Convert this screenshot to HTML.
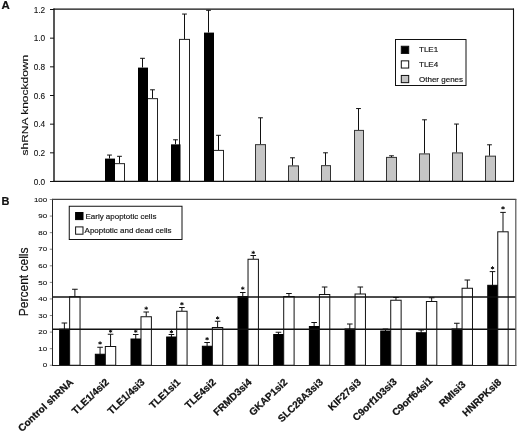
<!DOCTYPE html>
<html><head><meta charset="utf-8"><title>Figure</title>
<style>
html,body{margin:0;padding:0;background:#fff;}
body{width:520px;height:434px;overflow:hidden;font-family:"Liberation Sans", sans-serif;}
svg{display:block;font-family:"Liberation Sans", sans-serif;opacity:0.999;}
</style></head><body>
<svg width="520" height="434" viewBox="0 0 520 434">
<defs><filter id="soft" x="0" y="0" width="100%" height="100%" filterUnits="userSpaceOnUse" color-interpolation-filters="sRGB"><feGaussianBlur stdDeviation="0.38"/></filter></defs>
<rect x="0" y="0" width="520" height="434" fill="#fff"/>
<g filter="url(#soft)">
<rect x="0" y="0" width="520" height="434" fill="#fff"/>
<text transform="translate(1.50,9.00) scale(1.04,1)" font-size="11" text-anchor="start" font-weight="bold" fill="#111" stroke="#111" stroke-width="0.2">A</text>
<text transform="translate(27.50,155.50) scale(0.82,1) rotate(-90)" font-size="12" text-anchor="start" fill="#111" stroke="#111" stroke-width="0.18">shRNA knockdown</text>
<line x1="50.00" y1="181.50" x2="54.00" y2="181.50" stroke="#111" stroke-width="1"/>
<text transform="translate(45.20,184.80) scale(0.9,1)" font-size="9.2" text-anchor="end" fill="#111" stroke="#111" stroke-width="0.1">0.0</text>
<line x1="50.00" y1="152.83" x2="54.00" y2="152.83" stroke="#111" stroke-width="1"/>
<text transform="translate(45.20,156.13) scale(0.9,1)" font-size="9.2" text-anchor="end" fill="#111" stroke="#111" stroke-width="0.1">0.2</text>
<line x1="50.00" y1="124.17" x2="54.00" y2="124.17" stroke="#111" stroke-width="1"/>
<text transform="translate(45.20,127.47) scale(0.9,1)" font-size="9.2" text-anchor="end" fill="#111" stroke="#111" stroke-width="0.1">0.4</text>
<line x1="50.00" y1="95.50" x2="54.00" y2="95.50" stroke="#111" stroke-width="1"/>
<text transform="translate(45.20,98.80) scale(0.9,1)" font-size="9.2" text-anchor="end" fill="#111" stroke="#111" stroke-width="0.1">0.6</text>
<line x1="50.00" y1="66.83" x2="54.00" y2="66.83" stroke="#111" stroke-width="1"/>
<text transform="translate(45.20,70.13) scale(0.9,1)" font-size="9.2" text-anchor="end" fill="#111" stroke="#111" stroke-width="0.1">0.8</text>
<line x1="50.00" y1="38.17" x2="54.00" y2="38.17" stroke="#111" stroke-width="1"/>
<text transform="translate(45.20,41.47) scale(0.9,1)" font-size="9.2" text-anchor="end" fill="#111" stroke="#111" stroke-width="0.1">1.0</text>
<line x1="50.00" y1="9.50" x2="54.00" y2="9.50" stroke="#111" stroke-width="1"/>
<text transform="translate(45.20,12.80) scale(0.9,1)" font-size="9.2" text-anchor="end" fill="#111" stroke="#111" stroke-width="0.1">1.2</text>
<line x1="119.50" y1="156.30" x2="119.50" y2="163.25" stroke="#111" stroke-width="1"/>
<line x1="117.10" y1="156.30" x2="121.90" y2="156.30" stroke="#111" stroke-width="1"/>
<rect x="114.50" y="163.65" width="10.00" height="17.85" fill="#fff" stroke="#222" stroke-width="1"/>
<line x1="109.50" y1="155.05" x2="109.50" y2="158.50" stroke="#111" stroke-width="1"/>
<line x1="107.10" y1="155.05" x2="111.90" y2="155.05" stroke="#111" stroke-width="1"/>
<rect x="105.00" y="158.60" width="10.00" height="22.90" fill="#000" stroke="none" stroke-width="0"/>
<line x1="152.50" y1="89.80" x2="152.50" y2="98.25" stroke="#111" stroke-width="1"/>
<line x1="150.10" y1="89.80" x2="154.90" y2="89.80" stroke="#111" stroke-width="1"/>
<rect x="147.50" y="98.65" width="10.00" height="82.85" fill="#fff" stroke="#222" stroke-width="1"/>
<line x1="142.50" y1="58.30" x2="142.50" y2="67.50" stroke="#111" stroke-width="1"/>
<line x1="140.10" y1="58.30" x2="144.90" y2="58.30" stroke="#111" stroke-width="1"/>
<rect x="138.00" y="67.60" width="10.00" height="113.90" fill="#000" stroke="none" stroke-width="0"/>
<line x1="184.50" y1="14.05" x2="184.50" y2="39.00" stroke="#111" stroke-width="1"/>
<line x1="182.10" y1="14.05" x2="186.90" y2="14.05" stroke="#111" stroke-width="1"/>
<rect x="179.50" y="39.40" width="10.00" height="142.10" fill="#fff" stroke="#222" stroke-width="1"/>
<line x1="175.50" y1="139.80" x2="175.50" y2="144.25" stroke="#111" stroke-width="1"/>
<line x1="173.10" y1="139.80" x2="177.90" y2="139.80" stroke="#111" stroke-width="1"/>
<rect x="171.00" y="144.35" width="9.50" height="37.15" fill="#000" stroke="none" stroke-width="0"/>
<line x1="218.50" y1="135.30" x2="218.50" y2="150.00" stroke="#111" stroke-width="1"/>
<line x1="216.10" y1="135.30" x2="220.90" y2="135.30" stroke="#111" stroke-width="1"/>
<rect x="213.50" y="150.40" width="10.00" height="31.10" fill="#fff" stroke="#222" stroke-width="1"/>
<line x1="208.50" y1="10.30" x2="208.50" y2="32.50" stroke="#111" stroke-width="1"/>
<line x1="206.10" y1="10.30" x2="210.90" y2="10.30" stroke="#111" stroke-width="1"/>
<rect x="204.00" y="32.60" width="10.00" height="148.90" fill="#000" stroke="none" stroke-width="0"/>
<line x1="260.50" y1="117.80" x2="260.50" y2="144.25" stroke="#111" stroke-width="1"/>
<line x1="258.10" y1="117.80" x2="262.90" y2="117.80" stroke="#111" stroke-width="1"/>
<rect x="255.50" y="144.65" width="10.00" height="36.85" fill="#c6c6c6" stroke="#333" stroke-width="1"/>
<line x1="292.50" y1="157.80" x2="292.50" y2="165.50" stroke="#111" stroke-width="1"/>
<line x1="290.10" y1="157.80" x2="294.90" y2="157.80" stroke="#111" stroke-width="1"/>
<rect x="288.50" y="165.90" width="10.00" height="15.60" fill="#c6c6c6" stroke="#333" stroke-width="1"/>
<line x1="325.50" y1="152.80" x2="325.50" y2="165.25" stroke="#111" stroke-width="1"/>
<line x1="323.10" y1="152.80" x2="327.90" y2="152.80" stroke="#111" stroke-width="1"/>
<rect x="321.50" y="165.65" width="9.00" height="15.85" fill="#c6c6c6" stroke="#333" stroke-width="1"/>
<line x1="358.50" y1="108.55" x2="358.50" y2="130.00" stroke="#111" stroke-width="1"/>
<line x1="356.10" y1="108.55" x2="360.90" y2="108.55" stroke="#111" stroke-width="1"/>
<rect x="354.50" y="130.40" width="9.00" height="51.10" fill="#c6c6c6" stroke="#333" stroke-width="1"/>
<line x1="391.50" y1="155.80" x2="391.50" y2="157.00" stroke="#111" stroke-width="1"/>
<line x1="389.10" y1="155.80" x2="393.90" y2="155.80" stroke="#111" stroke-width="1"/>
<rect x="386.50" y="157.40" width="10.00" height="24.10" fill="#c6c6c6" stroke="#333" stroke-width="1"/>
<line x1="424.50" y1="119.80" x2="424.50" y2="153.50" stroke="#111" stroke-width="1"/>
<line x1="422.10" y1="119.80" x2="426.90" y2="119.80" stroke="#111" stroke-width="1"/>
<rect x="419.50" y="153.90" width="10.00" height="27.60" fill="#c6c6c6" stroke="#333" stroke-width="1"/>
<line x1="456.50" y1="124.05" x2="456.50" y2="152.50" stroke="#111" stroke-width="1"/>
<line x1="454.10" y1="124.05" x2="458.90" y2="124.05" stroke="#111" stroke-width="1"/>
<rect x="452.50" y="152.90" width="10.00" height="28.60" fill="#c6c6c6" stroke="#333" stroke-width="1"/>
<line x1="489.50" y1="144.80" x2="489.50" y2="155.75" stroke="#111" stroke-width="1"/>
<line x1="487.10" y1="144.80" x2="491.90" y2="144.80" stroke="#111" stroke-width="1"/>
<rect x="485.50" y="156.15" width="10.00" height="25.35" fill="#c6c6c6" stroke="#333" stroke-width="1"/>
<line x1="54.00" y1="8.60" x2="54.00" y2="181.80" stroke="#111" stroke-width="1.4"/>
<line x1="53.40" y1="9.10" x2="514.00" y2="9.10" stroke="#111" stroke-width="1.2"/>
<line x1="513.50" y1="8.60" x2="513.50" y2="181.80" stroke="#111" stroke-width="1.1"/>
<line x1="53.40" y1="181.30" x2="514.00" y2="181.30" stroke="#111" stroke-width="1.2"/>
<rect x="395.50" y="39.50" width="70.50" height="46.00" fill="#fff" stroke="#111" stroke-width="1"/>
<rect x="401.30" y="46.25" width="7.40" height="7.20" fill="#000" stroke="#111" stroke-width="1"/>
<text transform="translate(419.00,52.45) scale(1.0,1)" font-size="8" text-anchor="start" fill="#111" stroke="#111" stroke-width="0.16">TLE1</text>
<rect x="401.30" y="60.85" width="7.40" height="7.20" fill="#fff" stroke="#111" stroke-width="1"/>
<text transform="translate(419.00,67.05) scale(1.0,1)" font-size="8" text-anchor="start" fill="#111" stroke="#111" stroke-width="0.16">TLE4</text>
<rect x="401.30" y="75.45" width="7.40" height="7.20" fill="#c4c4c4" stroke="#111" stroke-width="1"/>
<text transform="translate(419.00,81.65) scale(1.0,1)" font-size="8" text-anchor="start" fill="#111" stroke="#111" stroke-width="0.16">Other genes</text>
<text transform="translate(1.50,204.80) scale(1.0,1)" font-size="11" text-anchor="start" font-weight="bold" fill="#111" stroke="#111" stroke-width="0.2">B</text>
<text transform="translate(28.20,316.20) scale(1.05,1) rotate(-90)" font-size="12" text-anchor="start" fill="#111" stroke="#111" stroke-width="0.2">Percent cells</text>
<line x1="49.80" y1="365.25" x2="52.00" y2="365.25" stroke="#888" stroke-width="1"/>
<text transform="translate(47.20,367.45) scale(1.33,1)" font-size="6.0" text-anchor="end" fill="#111" stroke="#111" stroke-width="0.1">0</text>
<line x1="49.80" y1="348.68" x2="52.00" y2="348.68" stroke="#888" stroke-width="1"/>
<text transform="translate(47.20,350.88) scale(1.33,1)" font-size="6.0" text-anchor="end" fill="#111" stroke="#111" stroke-width="0.1">10</text>
<line x1="49.80" y1="332.10" x2="52.00" y2="332.10" stroke="#888" stroke-width="1"/>
<text transform="translate(47.20,334.30) scale(1.33,1)" font-size="6.0" text-anchor="end" fill="#111" stroke="#111" stroke-width="0.1">20</text>
<line x1="49.80" y1="315.52" x2="52.00" y2="315.52" stroke="#888" stroke-width="1"/>
<text transform="translate(47.20,317.72) scale(1.33,1)" font-size="6.0" text-anchor="end" fill="#111" stroke="#111" stroke-width="0.1">30</text>
<line x1="49.80" y1="298.95" x2="52.00" y2="298.95" stroke="#888" stroke-width="1"/>
<text transform="translate(47.20,301.15) scale(1.33,1)" font-size="6.0" text-anchor="end" fill="#111" stroke="#111" stroke-width="0.1">40</text>
<line x1="49.80" y1="282.38" x2="52.00" y2="282.38" stroke="#888" stroke-width="1"/>
<text transform="translate(47.20,284.57) scale(1.33,1)" font-size="6.0" text-anchor="end" fill="#111" stroke="#111" stroke-width="0.1">50</text>
<line x1="49.80" y1="265.80" x2="52.00" y2="265.80" stroke="#888" stroke-width="1"/>
<text transform="translate(47.20,268.00) scale(1.33,1)" font-size="6.0" text-anchor="end" fill="#111" stroke="#111" stroke-width="0.1">60</text>
<line x1="49.80" y1="249.22" x2="52.00" y2="249.22" stroke="#888" stroke-width="1"/>
<text transform="translate(47.20,251.42) scale(1.33,1)" font-size="6.0" text-anchor="end" fill="#111" stroke="#111" stroke-width="0.1">70</text>
<line x1="49.80" y1="232.65" x2="52.00" y2="232.65" stroke="#888" stroke-width="1"/>
<text transform="translate(47.20,234.85) scale(1.33,1)" font-size="6.0" text-anchor="end" fill="#111" stroke="#111" stroke-width="0.1">80</text>
<line x1="49.80" y1="216.07" x2="52.00" y2="216.07" stroke="#888" stroke-width="1"/>
<text transform="translate(47.20,218.27) scale(1.33,1)" font-size="6.0" text-anchor="end" fill="#111" stroke="#111" stroke-width="0.1">90</text>
<line x1="49.80" y1="199.50" x2="52.00" y2="199.50" stroke="#888" stroke-width="1"/>
<text transform="translate(47.20,201.70) scale(1.33,1)" font-size="6.0" text-anchor="end" fill="#111" stroke="#111" stroke-width="0.1">100</text>
<line x1="64.39" y1="323.00" x2="64.39" y2="329.25" stroke="#111" stroke-width="1"/>
<line x1="61.59" y1="323.00" x2="67.19" y2="323.00" stroke="#111" stroke-width="1"/>
<rect x="59.64" y="329.25" width="10.00" height="36.00" fill="#000" stroke="#000" stroke-width="1"/>
<line x1="74.89" y1="289.25" x2="74.89" y2="296.75" stroke="#111" stroke-width="1"/>
<line x1="72.09" y1="289.25" x2="77.69" y2="289.25" stroke="#111" stroke-width="1"/>
<rect x="69.64" y="296.75" width="10.40" height="68.50" fill="#fff" stroke="#111" stroke-width="1"/>
<text transform="translate(73.94,382.90) scale(1.0,1) rotate(-43.5)" font-size="10" text-anchor="end" font-weight="bold" fill="#111" stroke="#111" stroke-width="0.25">Control shRNA</text>
<line x1="100.07" y1="347.25" x2="100.07" y2="354.25" stroke="#111" stroke-width="1"/>
<line x1="97.27" y1="347.25" x2="102.87" y2="347.25" stroke="#111" stroke-width="1"/>
<rect x="95.32" y="354.25" width="10.00" height="11.00" fill="#000" stroke="#000" stroke-width="1"/>
<line x1="110.57" y1="334.25" x2="110.57" y2="346.50" stroke="#111" stroke-width="1"/>
<line x1="107.77" y1="334.25" x2="113.37" y2="334.25" stroke="#111" stroke-width="1"/>
<rect x="105.32" y="346.50" width="10.40" height="18.75" fill="#fff" stroke="#111" stroke-width="1"/>
<path d="M98.47 342.50 L101.67 343.70 M98.47 343.70 L101.67 342.50 M100.07 341.30 L100.07 344.50" stroke="#111" stroke-width="1.0" fill="none"/>
<path d="M108.97 330.70 L112.17 331.90 M108.97 331.90 L112.17 330.70 M110.57 329.50 L110.57 332.70" stroke="#111" stroke-width="1.0" fill="none"/>
<text transform="translate(109.62,382.90) scale(1.0,1) rotate(-43.5)" font-size="10" text-anchor="end" font-weight="bold" fill="#111" stroke="#111" stroke-width="0.25">TLE1/4si2</text>
<line x1="135.74" y1="334.50" x2="135.74" y2="339.00" stroke="#111" stroke-width="1"/>
<line x1="132.94" y1="334.50" x2="138.54" y2="334.50" stroke="#111" stroke-width="1"/>
<rect x="130.99" y="339.00" width="10.00" height="26.25" fill="#000" stroke="#000" stroke-width="1"/>
<line x1="146.24" y1="312.00" x2="146.24" y2="316.75" stroke="#111" stroke-width="1"/>
<line x1="143.44" y1="312.00" x2="149.04" y2="312.00" stroke="#111" stroke-width="1"/>
<rect x="140.99" y="316.75" width="10.40" height="48.50" fill="#fff" stroke="#111" stroke-width="1"/>
<path d="M134.14 330.75 L137.34 331.95 M134.14 331.95 L137.34 330.75 M135.74 329.55 L135.74 332.75" stroke="#111" stroke-width="1.0" fill="none"/>
<path d="M144.64 307.75 L147.84 308.95 M144.64 308.95 L147.84 307.75 M146.24 306.55 L146.24 309.75" stroke="#111" stroke-width="1.0" fill="none"/>
<text transform="translate(145.29,382.90) scale(1.0,1) rotate(-43.5)" font-size="10" text-anchor="end" font-weight="bold" fill="#111" stroke="#111" stroke-width="0.25">TLE1/4si3</text>
<line x1="171.42" y1="334.50" x2="171.42" y2="337.00" stroke="#111" stroke-width="1"/>
<line x1="168.62" y1="334.50" x2="174.22" y2="334.50" stroke="#111" stroke-width="1"/>
<rect x="166.67" y="337.00" width="10.00" height="28.25" fill="#000" stroke="#000" stroke-width="1"/>
<line x1="181.92" y1="307.50" x2="181.92" y2="311.25" stroke="#111" stroke-width="1"/>
<line x1="179.12" y1="307.50" x2="184.72" y2="307.50" stroke="#111" stroke-width="1"/>
<rect x="176.67" y="311.25" width="10.40" height="54.00" fill="#fff" stroke="#111" stroke-width="1"/>
<path d="M169.82 331.25 L173.02 332.45 M169.82 332.45 L173.02 331.25 M171.42 330.05 L171.42 333.25" stroke="#111" stroke-width="1.0" fill="none"/>
<path d="M180.32 303.25 L183.52 304.45 M180.32 304.45 L183.52 303.25 M181.92 302.05 L181.92 305.25" stroke="#111" stroke-width="1.0" fill="none"/>
<text transform="translate(180.97,382.90) scale(1.0,1) rotate(-43.5)" font-size="10" text-anchor="end" font-weight="bold" fill="#111" stroke="#111" stroke-width="0.25">TLE1si1</text>
<line x1="207.10" y1="342.50" x2="207.10" y2="346.25" stroke="#111" stroke-width="1"/>
<line x1="204.30" y1="342.50" x2="209.90" y2="342.50" stroke="#111" stroke-width="1"/>
<rect x="202.35" y="346.25" width="10.00" height="19.00" fill="#000" stroke="#000" stroke-width="1"/>
<line x1="217.60" y1="321.25" x2="217.60" y2="327.50" stroke="#111" stroke-width="1"/>
<line x1="214.80" y1="321.25" x2="220.40" y2="321.25" stroke="#111" stroke-width="1"/>
<rect x="212.35" y="327.50" width="10.40" height="37.75" fill="#fff" stroke="#111" stroke-width="1"/>
<path d="M205.50 338.25 L208.70 339.45 M205.50 339.45 L208.70 338.25 M207.10 337.05 L207.10 340.25" stroke="#111" stroke-width="1.0" fill="none"/>
<path d="M216.00 317.50 L219.20 318.70 M216.00 318.70 L219.20 317.50 M217.60 316.30 L217.60 319.50" stroke="#111" stroke-width="1.0" fill="none"/>
<text transform="translate(216.65,382.90) scale(1.0,1) rotate(-43.5)" font-size="10" text-anchor="end" font-weight="bold" fill="#111" stroke="#111" stroke-width="0.25">TLE4si2</text>
<line x1="242.77" y1="292.50" x2="242.77" y2="296.50" stroke="#111" stroke-width="1"/>
<line x1="239.97" y1="292.50" x2="245.57" y2="292.50" stroke="#111" stroke-width="1"/>
<rect x="238.02" y="296.50" width="10.00" height="68.75" fill="#000" stroke="#000" stroke-width="1"/>
<line x1="253.27" y1="255.50" x2="253.27" y2="259.25" stroke="#111" stroke-width="1"/>
<line x1="250.47" y1="255.50" x2="256.07" y2="255.50" stroke="#111" stroke-width="1"/>
<rect x="248.02" y="259.25" width="10.40" height="106.00" fill="#fff" stroke="#111" stroke-width="1"/>
<path d="M241.17 287.75 L244.37 288.95 M241.17 288.95 L244.37 287.75 M242.77 286.55 L242.77 289.75" stroke="#111" stroke-width="1.0" fill="none"/>
<path d="M251.67 252.00 L254.87 253.20 M251.67 253.20 L254.87 252.00 M253.27 250.80 L253.27 254.00" stroke="#111" stroke-width="1.0" fill="none"/>
<text transform="translate(252.32,382.90) scale(1.0,1) rotate(-43.5)" font-size="10" text-anchor="end" font-weight="bold" fill="#111" stroke="#111" stroke-width="0.25">FRMD3si4</text>
<line x1="278.45" y1="332.25" x2="278.45" y2="334.50" stroke="#111" stroke-width="1"/>
<line x1="275.65" y1="332.25" x2="281.25" y2="332.25" stroke="#111" stroke-width="1"/>
<rect x="273.70" y="334.50" width="10.00" height="30.75" fill="#000" stroke="#000" stroke-width="1"/>
<line x1="288.95" y1="293.50" x2="288.95" y2="296.50" stroke="#111" stroke-width="1"/>
<line x1="286.15" y1="293.50" x2="291.75" y2="293.50" stroke="#111" stroke-width="1"/>
<rect x="283.70" y="296.50" width="10.40" height="68.75" fill="#fff" stroke="#111" stroke-width="1"/>
<text transform="translate(288.00,382.90) scale(1.0,1) rotate(-43.5)" font-size="10" text-anchor="end" font-weight="bold" fill="#111" stroke="#111" stroke-width="0.25">GKAP1si2</text>
<line x1="314.13" y1="322.50" x2="314.13" y2="326.50" stroke="#111" stroke-width="1"/>
<line x1="311.33" y1="322.50" x2="316.93" y2="322.50" stroke="#111" stroke-width="1"/>
<rect x="309.38" y="326.50" width="10.00" height="38.75" fill="#000" stroke="#000" stroke-width="1"/>
<line x1="324.63" y1="287.00" x2="324.63" y2="294.50" stroke="#111" stroke-width="1"/>
<line x1="321.83" y1="287.00" x2="327.43" y2="287.00" stroke="#111" stroke-width="1"/>
<rect x="319.38" y="294.50" width="10.40" height="70.75" fill="#fff" stroke="#111" stroke-width="1"/>
<text transform="translate(323.68,382.90) scale(1.0,1) rotate(-43.5)" font-size="10" text-anchor="end" font-weight="bold" fill="#111" stroke="#111" stroke-width="0.25">SLC28A3si3</text>
<line x1="349.80" y1="324.00" x2="349.80" y2="329.00" stroke="#111" stroke-width="1"/>
<line x1="347.00" y1="324.00" x2="352.60" y2="324.00" stroke="#111" stroke-width="1"/>
<rect x="345.05" y="329.00" width="10.00" height="36.25" fill="#000" stroke="#000" stroke-width="1"/>
<line x1="360.30" y1="287.00" x2="360.30" y2="294.00" stroke="#111" stroke-width="1"/>
<line x1="357.50" y1="287.00" x2="363.10" y2="287.00" stroke="#111" stroke-width="1"/>
<rect x="355.05" y="294.00" width="10.40" height="71.25" fill="#fff" stroke="#111" stroke-width="1"/>
<text transform="translate(361.85,382.90) scale(1.0,1) rotate(-43.5)" font-size="10" text-anchor="end" font-weight="bold" fill="#111" stroke="#111" stroke-width="0.25">KIF27si3</text>
<line x1="385.48" y1="329.00" x2="385.48" y2="331.00" stroke="#111" stroke-width="1"/>
<line x1="382.68" y1="329.00" x2="388.28" y2="329.00" stroke="#111" stroke-width="1"/>
<rect x="380.73" y="331.00" width="10.00" height="34.25" fill="#000" stroke="#000" stroke-width="1"/>
<line x1="395.98" y1="297.50" x2="395.98" y2="300.25" stroke="#111" stroke-width="1"/>
<line x1="393.18" y1="297.50" x2="398.78" y2="297.50" stroke="#111" stroke-width="1"/>
<rect x="390.73" y="300.25" width="10.40" height="65.00" fill="#fff" stroke="#111" stroke-width="1"/>
<text transform="translate(397.53,382.40) scale(1.0,1) rotate(-43.5)" font-size="10" text-anchor="end" font-weight="bold" fill="#111" stroke="#111" stroke-width="0.25">C9orf103si3</text>
<line x1="421.16" y1="330.00" x2="421.16" y2="332.75" stroke="#111" stroke-width="1"/>
<line x1="418.36" y1="330.00" x2="423.96" y2="330.00" stroke="#111" stroke-width="1"/>
<rect x="416.41" y="332.75" width="10.00" height="32.50" fill="#000" stroke="#000" stroke-width="1"/>
<line x1="431.66" y1="297.75" x2="431.66" y2="301.50" stroke="#111" stroke-width="1"/>
<line x1="428.86" y1="297.75" x2="434.46" y2="297.75" stroke="#111" stroke-width="1"/>
<rect x="426.41" y="301.50" width="10.40" height="63.75" fill="#fff" stroke="#111" stroke-width="1"/>
<text transform="translate(433.01,381.40) scale(1.0,1) rotate(-43.5)" font-size="10" text-anchor="end" font-weight="bold" fill="#111" stroke="#111" stroke-width="0.25">C9orf64si1</text>
<line x1="456.83" y1="323.25" x2="456.83" y2="329.00" stroke="#111" stroke-width="1"/>
<line x1="454.03" y1="323.25" x2="459.63" y2="323.25" stroke="#111" stroke-width="1"/>
<rect x="452.08" y="329.00" width="10.00" height="36.25" fill="#000" stroke="#000" stroke-width="1"/>
<line x1="467.33" y1="280.00" x2="467.33" y2="288.25" stroke="#111" stroke-width="1"/>
<line x1="464.53" y1="280.00" x2="470.13" y2="280.00" stroke="#111" stroke-width="1"/>
<rect x="462.08" y="288.25" width="10.40" height="77.00" fill="#fff" stroke="#111" stroke-width="1"/>
<text transform="translate(466.38,385.20) scale(1.0,1) rotate(-43.5)" font-size="10" text-anchor="end" font-weight="bold" fill="#111" stroke="#111" stroke-width="0.25">RMIsi3</text>
<line x1="492.51" y1="271.60" x2="492.51" y2="285.30" stroke="#111" stroke-width="1"/>
<line x1="489.71" y1="271.60" x2="495.31" y2="271.60" stroke="#111" stroke-width="1"/>
<rect x="487.76" y="285.30" width="10.00" height="79.95" fill="#000" stroke="#000" stroke-width="1"/>
<line x1="503.01" y1="212.40" x2="503.01" y2="231.80" stroke="#111" stroke-width="1"/>
<line x1="500.21" y1="212.40" x2="505.81" y2="212.40" stroke="#111" stroke-width="1"/>
<rect x="497.76" y="231.80" width="10.40" height="133.45" fill="#fff" stroke="#111" stroke-width="1"/>
<path d="M490.91 267.40 L494.11 268.60 M490.91 268.60 L494.11 267.40 M492.51 266.20 L492.51 269.40" stroke="#111" stroke-width="1.0" fill="none"/>
<path d="M501.41 207.40 L504.61 208.60 M501.41 208.60 L504.61 207.40 M503.01 206.20 L503.01 209.40" stroke="#111" stroke-width="1.0" fill="none"/>
<text transform="translate(502.06,382.90) scale(1.0,1) rotate(-43.5)" font-size="10" text-anchor="end" font-weight="bold" fill="#111" stroke="#111" stroke-width="0.25">HNRPKsi8</text>
<line x1="52.00" y1="297.00" x2="515.80" y2="297.00" stroke="#111" stroke-width="1.4"/>
<line x1="52.00" y1="329.25" x2="515.80" y2="329.25" stroke="#111" stroke-width="1.4"/>
<line x1="52.50" y1="198.90" x2="52.50" y2="366.00" stroke="#222" stroke-width="1.0"/>
<line x1="52.00" y1="365.50" x2="516.30" y2="365.50" stroke="#222" stroke-width="1.0"/>
<line x1="52.00" y1="199.40" x2="516.30" y2="199.40" stroke="#444" stroke-width="1.1"/>
<line x1="515.80" y1="198.90" x2="515.80" y2="366.00" stroke="#555" stroke-width="1.2"/>
<rect x="69.25" y="206.25" width="112.75" height="33.25" fill="#fff" stroke="#111" stroke-width="1"/>
<rect x="75.60" y="212.50" width="7.40" height="7.10" fill="#000" stroke="#000" stroke-width="1"/>
<text transform="translate(85.50,218.90) scale(1.05,1)" font-size="7.6" text-anchor="start" fill="#111" stroke="#111" stroke-width="0.16">Early apoptotic cells</text>
<rect x="75.60" y="226.90" width="7.40" height="7.30" fill="#fff" stroke="#111" stroke-width="1"/>
<text transform="translate(84.60,233.20) scale(1.05,1)" font-size="7.6" text-anchor="start" fill="#111" stroke="#111" stroke-width="0.16">Apoptotic and dead cells</text>
</g>
</svg>
</body></html>
